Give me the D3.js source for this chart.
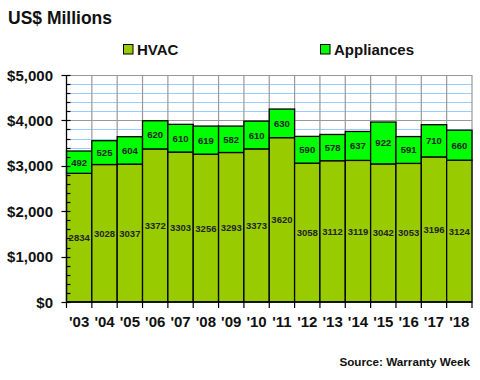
<!DOCTYPE html>
<html><head><meta charset="utf-8">
<script src="https://cdn.jsdelivr.net/npm/d3@7"></script>
<style>body{margin:0;background:#fff}svg{display:block}text{font-family:"Liberation Sans",Arial,sans-serif;font-weight:bold}</style>
</head><body><svg id="c" width="480" height="380"></svg>
<script>
const years = ["'03","'04","'05","'06","'07","'08","'09","'10","'11","'12","'13","'14","'15","'16","'17","'18"];
const hvac = [2834,3028,3037,3372,3303,3256,3293,3373,3620,3058,3112,3119,3042,3053,3196,3124];
const appliances = [492,525,604,620,610,619,582,610,630,590,578,637,922,591,710,660];
const yTicks = [0,1000,2000,3000,4000,5000];
const seriesNames = ["HVAC","Appliances"];
const colors = ["#99cc00","#00ff00"];

const svg = d3.select("#c");
const L=66.5, R=472, T=75, B=302;
const x = d3.scaleBand().domain(years).range([L,R]).padding(0);
const y = d3.scaleLinear().domain([0,5000]).range([B,T]);

// title
svg.append("text").attr("x",8).attr("y",24).attr("font-size",17.5).attr("fill","#111").text("US$ Millions");

// legend
const legX=[123.5,320.5];
seriesNames.forEach((n,i)=>{
  svg.append("rect").attr("x",legX[i]).attr("y",44.5).attr("width",9.5).attr("height",9.5)
    .attr("fill",colors[i]).attr("stroke","#000").attr("stroke-width",1);
  svg.append("text").attr("x",legX[i]+13.5).attr("y",54.5).attr("font-size",15).attr("fill","#111").text(n);
});

// grid
const minor = d3.range(0,5001,200).filter(v=>v%1000!==0);
svg.append("g").selectAll("line").data(minor).join("line")
  .attr("x1",L).attr("x2",R).attr("y1",d=>Math.round(y(d))+0.5).attr("y2",d=>Math.round(y(d))+0.5)
  .attr("stroke","#99ccff").attr("stroke-width",1);
svg.append("g").selectAll("line").data(yTicks.filter(v=>v>0)).join("line")
  .attr("x1",L).attr("x2",R).attr("y1",d=>Math.round(y(d))+0.5).attr("y2",d=>Math.round(y(d))+0.5)
  .attr("stroke","#999").attr("stroke-width",1.2);
const bounds = years.map(d=>x(d)).concat([R]);
svg.append("g").selectAll("line").data(bounds.slice(1)).join("line")
  .attr("x1",d=>d).attr("x2",d=>d).attr("y1",T).attr("y2",B)
  .attr("stroke","#999").attr("stroke-width",1.2);

// bars
const g = svg.append("g");
years.forEach((yr,i)=>{
  const h = hvac[i], a = appliances[i];
  g.append("rect").attr("x",x(yr)).attr("width",x.bandwidth()).attr("y",y(h)).attr("height",y(0)-y(h))
    .attr("fill",colors[0]).attr("stroke","#000").attr("stroke-width",1.3);
  g.append("rect").attr("x",x(yr)).attr("width",x.bandwidth()).attr("y",y(h+a)).attr("height",y(h)-y(h+a))
    .attr("fill",colors[1]).attr("stroke","#000").attr("stroke-width",1.3);
  g.append("text").attr("x",x(yr)+x.bandwidth()/2).attr("y",(y(0)+y(h))/2+3.5).attr("text-anchor","middle")
    .attr("font-size",9.5).attr("fill","#222").text(h);
  g.append("text").attr("x",x(yr)+x.bandwidth()/2).attr("y",(y(h)+y(h+a))/2+3.5).attr("text-anchor","middle")
    .attr("font-size",9.5).attr("fill","#222").text(a);
});

// y axis
const ax = svg.append("g");
ax.append("line").attr("x1",L).attr("x2",L).attr("y1",T).attr("y2",B).attr("stroke","#000").attr("stroke-width",1.3);
ax.selectAll(".mj").data(yTicks).join("line").attr("x1",L-5).attr("x2",L+4)
  .attr("y1",d=>Math.round(y(d))+0.5).attr("y2",d=>Math.round(y(d))+0.5).attr("stroke","#000").attr("stroke-width",1.2);
ax.selectAll(".mn").data(minor).join("line").attr("x1",L).attr("x2",L+4)
  .attr("y1",d=>Math.round(y(d))+0.5).attr("y2",d=>Math.round(y(d))+0.5).attr("stroke","#000").attr("stroke-width",1.2);
ax.selectAll("text").data(yTicks).join("text").attr("x",53).attr("y",d=>y(d)+5.5).attr("text-anchor","end")
  .attr("font-size",15).attr("fill","#111").text(d=>"$"+d3.format(",")(d));

// x axis
svg.append("line").attr("x1",L).attr("x2",R).attr("y1",B).attr("y2",B).attr("stroke","#000").attr("stroke-width",1.3);
svg.append("g").selectAll("line").data(bounds).join("line").attr("x1",d=>d).attr("x2",d=>d)
  .attr("y1",B).attr("y2",B+6).attr("stroke","#000").attr("stroke-width",1.2);
svg.append("g").selectAll("text").data(years).join("text").attr("x",d=>x(d)+x.bandwidth()/2).attr("y",326.5)
  .attr("text-anchor","middle").attr("font-size",15).attr("fill","#111").text(d=>d);

// source
svg.append("text").attr("x",470).attr("y",366).attr("text-anchor","end").attr("font-size",11.7).attr("fill","#111").text("Source: Warranty Week");
</script></body></html>
